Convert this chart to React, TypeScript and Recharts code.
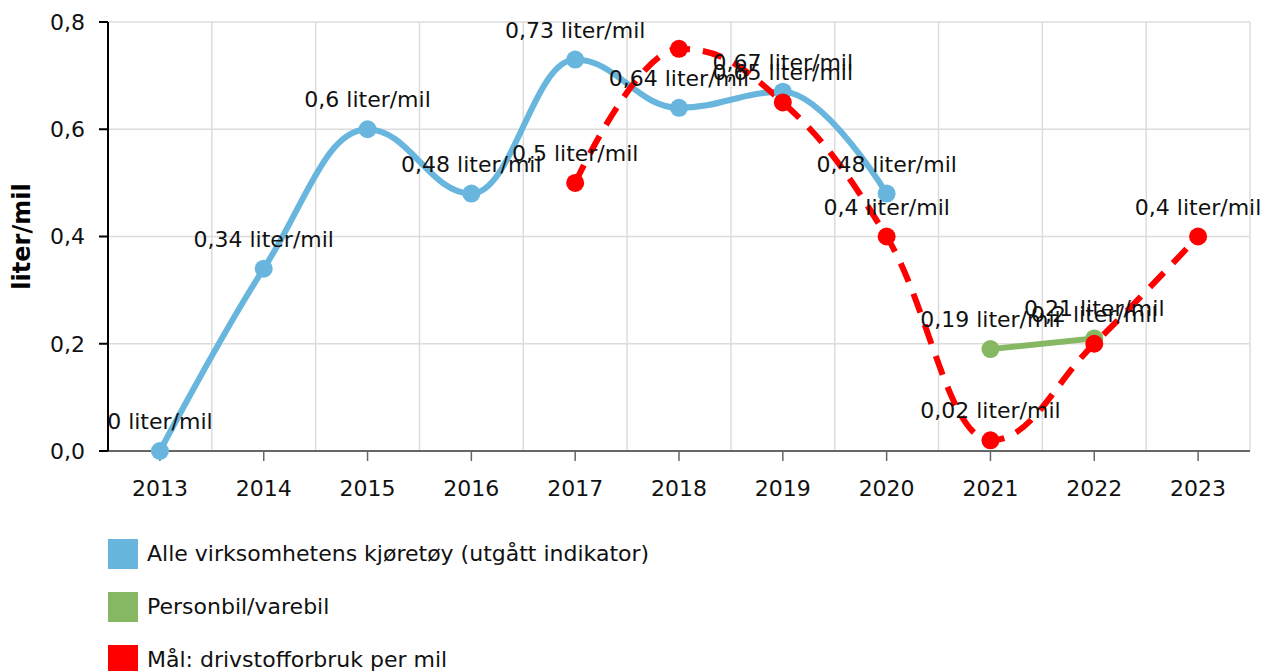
import React from "react";
import {
  CartesianGrid,
  Label,
  LabelList,
  Legend,
  Line,
  LineChart,
  XAxis,
  YAxis,
} from "recharts";

const years = ["2013", "2014", "2015", "2016", "2017", "2018", "2019", "2020", "2021", "2022", "2023"];
const alleKjoretoy = [0, 0.34, 0.6, 0.48, 0.73, 0.64, 0.67, 0.48, null, null, null];
const personbil = [null, null, null, null, null, null, null, null, 0.19, 0.21, null];
const maal = [null, null, null, null, 0.5, 0.75, 0.65, 0.4, 0.02, 0.2, 0.4];
const yTicks = [0, 0.2, 0.4, 0.6, 0.8];

const series = [
  { key: "alle", name: "Alle virksomhetens kjøretøy (utgått indikator)", color: "#68b6dd", dash: undefined },
  { key: "person", name: "Personbil/varebil", color: "#86b763", dash: undefined },
  { key: "maal", name: "Mål: drivstofforbruk per mil", color: "#ff0000", dash: "20 13" },
];

const rows = years.map((year, i) => ({
  year,
  alle: alleKjoretoy[i],
  person: personbil[i],
  maal: maal[i],
}));

const FONT = "'DejaVu Sans', Verdana, sans-serif";
const FS = 22;
const PLOT_TOP = 22;

const comma = (v: number, digits?: number) =>
  (digits === undefined ? String(v) : v.toFixed(digits)).replace(".", ",");

// spline like the one the original chart used (smoothing 1.5, no overshoot at extremes)
function splineCurve(context: any) {
  let pts: number[][] = [];
  return {
    areaStart() {},
    areaEnd() {},
    lineStart() {
      pts = [];
    },
    point(x: number, y: number) {
      pts.push([+x, +y]);
    },
    lineEnd() {
      const n = pts.length;
      if (!n) return;
      context.moveTo(pts[0][0], pts[0][1]);
      if (n === 1) {
        context.lineTo(pts[0][0], pts[0][1]);
        return;
      }
      const sm = 1.5;
      const den = sm + 1;
      const lc: number[][] = [];
      const rc: number[][] = [];
      for (let i = 0; i < n; i++) {
        const [px, py] = pts[i];
        if (i === 0 || i === n - 1) {
          lc[i] = [px, py];
          rc[i] = [px, py];
          continue;
        }
        const [lx, ly] = pts[i - 1];
        const [nx, ny] = pts[i + 1];
        const lcx = (sm * px + lx) / den;
        let lcy = (sm * py + ly) / den;
        const rcx = (sm * px + nx) / den;
        let rcy = (sm * py + ny) / den;
        if (rcx !== lcx) {
          const corr = ((rcy - lcy) * (rcx - px)) / (rcx - lcx) + py - rcy;
          lcy += corr;
          rcy += corr;
        }
        if (lcy > ly && lcy > py) {
          lcy = Math.max(ly, py);
          rcy = 2 * py - lcy;
        } else if (lcy < ly && lcy < py) {
          lcy = Math.min(ly, py);
          rcy = 2 * py - lcy;
        }
        if (rcy > ny && rcy > py) {
          rcy = Math.max(ny, py);
          lcy = 2 * py - rcy;
        } else if (rcy < ny && rcy < py) {
          rcy = Math.min(ny, py);
          lcy = 2 * py - rcy;
        }
        lc[i] = [lcx, lcy];
        rc[i] = [rcx, rcy];
      }
      for (let i = 1; i < n; i++) {
        context.bezierCurveTo(rc[i - 1][0], rc[i - 1][1], lc[i][0], lc[i][1], pts[i][0], pts[i][1]);
      }
    },
  };
}

const PointLabel = (props: any) => {
  const { value } = props;
  if (value === null || value === undefined) return null;
  const vb = props.viewBox || {};
  const x = vb.x ?? props.x;
  const y = vb.y ?? props.y;
  const baseline = y - 22;
  // labels that would stick out above the plot area are hidden, as in the original
  if (baseline - FS * 0.73 < PLOT_TOP - 2) return null;
  return (
    <text
      x={x}
      y={baseline}
      textAnchor="middle"
      style={{ fontFamily: FONT, fontSize: FS, fill: "#111" }}
    >
      {`${comma(value)} liter/mil`}
    </text>
  );
};

const YTitle = (props: any) => {
  const vb = props.viewBox || { y: 0, height: 0 };
  const cx = 22;
  const cy = vb.y + vb.height / 2;
  return (
    <text
      x={cx}
      y={cy}
      transform={`rotate(-90, ${cx}, ${cy})`}
      textAnchor="middle"
      dominantBaseline="central"
      style={{ fontFamily: FONT, fontSize: 24, fontWeight: "bold", fill: "#000" }}
    >
      liter/mil
    </text>
  );
};

const LegendBox = () => (
  <div style={{ fontFamily: FONT, fontSize: FS, color: "#111" }}>
    {series.map((s) => (
      <div key={s.key} style={{ display: "flex", alignItems: "center", height: 53 }}>
        <span style={{ width: 30, height: 30, background: s.color, marginRight: 9, display: "inline-block" }} />
        <span>{s.name}</span>
      </div>
    ))}
  </div>
);

export default function App() {
  return (
    <div>
      <style>{"body{margin:0}"}</style>
      <LineChart
        width={1263}
        height={671}
        data={rows}
        margin={{ top: PLOT_TOP, right: 13, left: 0, bottom: 180 }}
      >
        <CartesianGrid
          stroke="#dcdcdc"
          strokeWidth={1.5}
          verticalCoordinatesGenerator={({ offset }: any) =>
            years.concat([""]).map((_, i) => offset.left + (i * offset.width) / years.length)
          }
        />
        <XAxis
          dataKey="year"
          scale="band"
          height={40}
          axisLine={{ stroke: "#666", strokeWidth: 2 }}
          tickLine={{ stroke: "#666", strokeWidth: 1.5 }}
          tickSize={10}
          tickMargin={19}
          tick={{ fontFamily: FONT, fontSize: FS, fill: "#111" }}
        />
        <YAxis
          width={108}
          domain={[0, 0.8]}
          ticks={yTicks}
          tickFormatter={(v: number) => comma(v, 1)}
          axisLine={{ stroke: "#000", strokeWidth: 2 }}
          tickLine={{ stroke: "#000", strokeWidth: 2 }}
          tickSize={9}
          tickMargin={14}
          tick={{ fontFamily: FONT, fontSize: FS, fill: "#111" }}
        >
          <Label content={<YTitle />} />
        </YAxis>
        <Legend
          layout="vertical"
          align="center"
          verticalAlign="middle"
          wrapperStyle={{ top: 527, left: 108, width: "auto" }}
          content={<LegendBox />}
        />
        {series.map((s) => (
          <Line
            key={s.key}
            dataKey={s.key}
            name={s.name}
            type={splineCurve as any}
            stroke={s.color}
            strokeWidth={6}
            strokeDasharray={s.dash}
            dot={{ r: 9, fill: s.color, stroke: "none", strokeDasharray: "" }}
            activeDot={false}
            isAnimationActive={false}
          >
            <LabelList dataKey={s.key} content={<PointLabel />} />
          </Line>
        ))}
      </LineChart>
    </div>
  );
}
